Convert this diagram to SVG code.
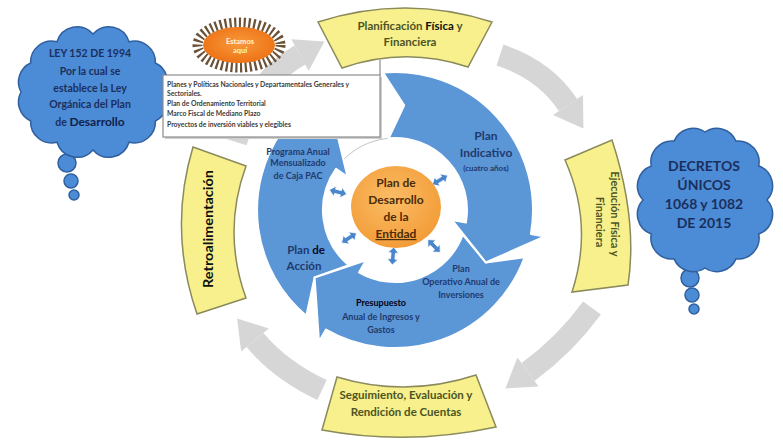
<svg xmlns="http://www.w3.org/2000/svg" width="783" height="440" viewBox="0 0 783 440">
<defs>
<style>
.cloud{fill:#4c8bd5;stroke:#2f5f9e;stroke-width:1.5}
.cloudtxt{font-family:Lato,'Liberation Sans',sans-serif;font-weight:bold;fill:#1b2f5e;text-anchor:middle}
.banner{fill:#f7f08c;stroke:#8a8a5c;stroke-width:1.5}
.bantxt{font-family:Lato,'Liberation Sans',sans-serif;font-weight:bold;fill:#4c5424;text-anchor:middle}
.seg{fill:#5b96d6;stroke:#ffffff;stroke-width:2;stroke-linejoin:round}
.ringtxt{font-family:Lato,'Liberation Sans',sans-serif;font-weight:bold;fill:#1f3a6e;text-anchor:middle}
.garrow{fill:none;stroke:#d6d6d6;stroke-width:22}
.ghead{fill:#d6d6d6}
.icon{fill:#4a86cc;stroke:#ffffff;stroke-width:0.8}
.calltxt{font-family:Lato,'Liberation Sans',sans-serif;font-weight:bold;fill:#3a3a3a;font-size:6.8px}
</style>
<radialGradient id="og" cx="0.45" cy="0.4" r="0.65">
<stop offset="0" stop-color="#fbbd66"/><stop offset="1" stop-color="#f29a35"/>
</radialGradient>
<radialGradient id="sg" cx="0.5" cy="0.45" r="0.6">
<stop offset="0" stop-color="#f89a3c"/><stop offset="1" stop-color="#ec6f12"/>
</radialGradient>
<path id="dbl" d="M-9,0 L-3,-5.5 L-3,-2.2 L3,-2.2 L3,-5.5 L9,0 L3,5.5 L3,2.2 L-3,2.2 L-3,5.5 Z"/>
</defs>

<rect x="0" y="0" width="783" height="440" fill="#ffffff"/>

<g id="connectors">
<path class="garrow" d="M500,55 Q545,70 568,105"/>
<polygon class="ghead" points="553,114.9 583.4,128.4 583,95.1"/>
<path class="garrow" d="M592,308 Q565,345 528,372"/>
<polygon class="ghead" points="517.4,357.5 505.4,388.5 538.6,386.5"/>
<path class="garrow" d="M322,390 Q280,370 255,340"/>
<polygon class="ghead" points="268.8,328.5 237.1,318.5 241.2,351.5"/>
<path class="garrow" d="M236,142 Q255,80 300,55"/>
<polygon class="ghead" points="308.7,70.7 324.5,41.4 291.3,39.3"/>
<line x1="380" y1="60" x2="380" y2="75" stroke="#8c8c8c" stroke-width="1.2"/>
</g>

<g id="cloud-ley">
<circle class="cloud" cx="67" cy="163" r="9"/>
<circle class="cloud" cx="71" cy="181" r="7"/>
<circle class="cloud" cx="74" cy="195" r="5"/>
<path class="cloud" d="M165,92 A21,21 0 0 1 155.4,121 A21,21 0 0 1 129,142.2 A21,21 0 0 1 93,150 A21,21 0 0 1 57,142.2 A21,21 0 0 1 30.6,121 A21,21 0 0 1 21,92 A21,21 0 0 1 30.6,63 A21,21 0 0 1 57,41.8 A21,21 0 0 1 93,34 A21,21 0 0 1 129,41.8 A21,21 0 0 1 155.4,63 A21,21 0 0 1 165,92 Z"/>
<text class="cloudtxt" font-size="10.5" x="90" y="57">LEY 152 DE 1994</text>
<text class="cloudtxt" font-size="10.5" x="90" y="75">Por la cual se</text>
<text class="cloudtxt" font-size="10.5" x="90" y="92">establece la Ley</text>
<text class="cloudtxt" font-size="10.5" x="90" y="108">Orgánica del Plan</text>
<text class="cloudtxt" font-size="10.5" x="90" y="126">de <tspan font-size="12" fill="#10224a">Desarrollo</tspan></text>
</g>

<g id="cloud-decretos">
<circle class="cloud" cx="690" cy="278" r="9"/>
<circle class="cloud" cx="692" cy="295" r="7"/>
<circle class="cloud" cx="694" cy="309" r="5"/>
<path class="cloud" d="M767,200 A21,21 0 0 1 758.7,234 A21,21 0 0 1 736,258.9 A21,21 0 0 1 705,268 A21,21 0 0 1 674,258.9 A21,21 0 0 1 651.3,234 A21,21 0 0 1 643,200 A21,21 0 0 1 651.3,166 A21,21 0 0 1 674,141.1 A21,21 0 0 1 705,132 A21,21 0 0 1 736,141.1 A21,21 0 0 1 758.7,166 A21,21 0 0 1 767,200 Z"/>
<text class="cloudtxt" font-size="14" x="704" y="171">DECRETOS</text>
<text class="cloudtxt" font-size="14" x="704" y="190">ÚNICOS</text>
<text class="cloudtxt" font-size="14" x="704" y="209">1068 y 1082</text>
<text class="cloudtxt" font-size="14" x="704" y="228">DE 2015</text>
</g>

<g id="banner-planificacion">
<path class="banner" d="M318,22 Q405,-6 492,22 L468,67 Q405,46 342,68 Z"/>
<text class="bantxt" font-size="11.5" x="410" y="30">Planificación <tspan fill="#111111">Física</tspan> y</text>
<text class="bantxt" font-size="11.5" x="410" y="46">Financiera</text>
</g>

<g id="banner-ejecucion">
<path class="banner" d="M565,160 L612,140 Q638,220 628,285 L572,292 Q594,225 565,160 Z"/>
<text class="bantxt" font-size="11" transform="translate(611,214) rotate(90)">Ejecución Física y</text>
<text class="bantxt" font-size="11" transform="translate(596,222) rotate(90)">Financiera</text>
</g>

<g id="banner-seguimiento">
<path class="banner" d="M337,377 Q406,398 476,375 L496,427 Q408,446 322,430 Z"/>
<text class="bantxt" font-size="11.5" x="406" y="399">Seguimiento, Evaluación y</text>
<text class="bantxt" font-size="11.5" x="406" y="416">Rendición de Cuentas</text>
</g>

<g id="banner-retroalimentacion">
<path class="banner" d="M193,147 L246,166 Q222,232 246,298 L197,314 Q168,230 193,147 Z"/>
<text class="bantxt" font-size="12.5" style="fill:#111111" transform="translate(213,229) rotate(-90)" textLength="118" lengthAdjust="spacingAndGlyphs">Retroalimentación</text>
</g>

<g id="cycle">
<circle cx="395" cy="210" r="72" fill="#ffffff" stroke="#c5c5c5" stroke-width="1"/>
<g id="seg-plan-accion">
<path class="seg" d="M306.3,315.7 A138,138 0 0 1 282,130.9 L270.5,122.8 L334.8,124 L347.5,176.7 L336,168.7 A72,72 0 0 0 348.7,265.2 L314.6,277.5 Z"/>
<text class="ringtxt" font-size="9" x="298" y="155">Programa Anual</text>
<text class="ringtxt" font-size="9" x="298" y="166">Mensualizado</text>
<text class="ringtxt" font-size="9" x="298" y="179">de Caja PAC</text>
<text class="ringtxt" font-size="11.5" x="306" y="254">Plan <tspan fill="#0a0a2a">de</tspan></text>
<text class="ringtxt" font-size="11.5" x="304" y="270">Acción</text>
</g>
<g id="seg-plan-operativo">
<path class="seg" d="M524.7,257.2 A138,138 0 0 1 326,329.5 L319,341.6 L314.6,277.5 L366,260.2 L359,272.4 A72,72 0 0 0 462.7,234.6 L485.9,262.5 Z"/>
<text class="ringtxt" font-size="9" x="461" y="272">Plan</text>
<text class="ringtxt" font-size="9" x="461" y="285">Operativo Anual de</text>
<text class="ringtxt" font-size="9" x="461" y="298">Inversiones</text>
<text class="ringtxt" font-size="9" x="381" y="306" style="fill:#000010">Presupuesto</text>
<text class="ringtxt" font-size="9" x="381" y="320">Anual de Ingresos y</text>
<text class="ringtxt" font-size="9" x="381" y="333">Gastos</text>
</g>
<g id="seg-plan-indicativo">
<path class="seg" d="M383,72.5 A138,138 0 0 1 530.9,234 L544.7,236.4 L485.9,262.5 L452.1,220.1 L465.9,222.5 A72,72 0 0 0 388.7,138.3 L404.2,105.4 Z"/>
<text class="ringtxt" font-size="12" x="486" y="140">Plan</text>
<text class="ringtxt" font-size="12" x="486" y="157">Indicativo</text>
<text class="ringtxt" font-size="8" x="486" y="171">(cuatro años)</text>
</g>
<g id="icons">
<use href="#dbl" class="icon" transform="translate(338,192) rotate(14)"/>
<use href="#dbl" class="icon" transform="translate(349,238) rotate(-33)"/>
<use href="#dbl" class="icon" transform="translate(393,256) rotate(95)"/>
<use href="#dbl" class="icon" transform="translate(434,246) rotate(46)"/>
<use href="#dbl" class="icon" transform="translate(440,180) rotate(-31)"/>
</g>
<g id="plan-desarrollo">
<ellipse cx="396" cy="207" rx="45" ry="41" fill="url(#og)"/>
<text class="ringtxt" font-size="12" x="396" y="187" style="fill:#4a2c0a">Plan de</text>
<text class="ringtxt" font-size="12" x="396" y="204" style="fill:#4a2c0a">Desarrollo</text>
<text class="ringtxt" font-size="12" x="396" y="221" style="fill:#4a2c0a">de la</text>
<text class="ringtxt" font-size="12" x="396" y="238" style="fill:#4a2c0a" text-decoration="underline">Entidad</text>
</g>
</g>

<g id="estamos-aqui">
<ellipse cx="239" cy="45" rx="41.5" ry="22.5" fill="none" stroke="#6b5135" stroke-width="10" stroke-dasharray="2.2 2.6"/>
<ellipse cx="239" cy="45" rx="36" ry="18" fill="url(#sg)"/>
<text x="240" y="44" font-family="Lato,'Liberation Sans',sans-serif" font-weight="bold" font-size="7.5" fill="#fff4d0" text-anchor="middle">Estamos</text>
<text x="240" y="53" font-family="Lato,'Liberation Sans',sans-serif" font-weight="bold" font-size="7.5" fill="#fff4d0" text-anchor="middle">aquí</text>
</g>

<g id="callout">
<rect x="165" y="77" width="217" height="62" fill="#cfcfcf"/>
<rect x="163" y="75" width="217" height="62" fill="#ffffff" stroke="#8c8c8c" stroke-width="1.2"/>
<text class="calltxt" x="167" y="87">Planes y Políticas Nacionales y Departamentales Generales y</text>
<text class="calltxt" x="167" y="96">Sectoriales.</text>
<text class="calltxt" x="167" y="106">Plan de Ordenamiento Territorial</text>
<text class="calltxt" x="167" y="116">Marco Fiscal de Mediano Plazo</text>
<text class="calltxt" x="167" y="127">Proyectos de inversión viables y elegibles</text>
</g>
</svg>
